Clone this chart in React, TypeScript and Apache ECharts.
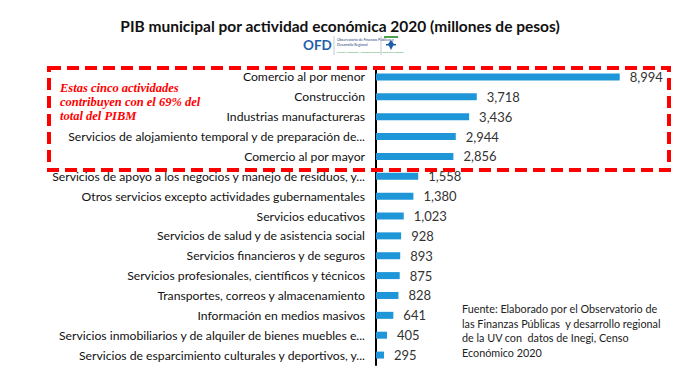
import React, { useEffect, useRef } from "react";
import * as echarts from "echarts";

const categories = [
  "Comercio al por menor",
  "Construcción",
  "Industrias manufactureras",
  "Servicios de alojamiento temporal y de preparación de...",
  "Comercio al por mayor",
  "Servicios de apoyo a los negocios y manejo de residuos, y...",
  "Otros servicios excepto actividades gubernamentales",
  "Servicios educativos",
  "Servicios de salud y de asistencia social",
  "Servicios financieros y de seguros",
  "Servicios profesionales, científicos y técnicos",
  "Transportes, correos y almacenamiento",
  "Información en medios masivos",
  "Servicios inmobiliarios y de alquiler de bienes muebles e...",
  "Servicios de esparcimiento culturales y deportivos, y...",
];
const values = [8994, 3718, 3436, 2944, 2856, 1558, 1380, 1023, 928, 893, 875, 828, 641, 405, 295];

const titleText = "PIB municipal por actividad económica 2020 (millones de pesos)";
const noteLines = ["Estas cinco actividades", "contribuyen con el 69% del", "total del PIBM"];
const sourceLines = [
  "Fuente: Elaborado por el Observatorio de",
  "las Finanzas Públicas  y desarrollo regional",
  "de la UV con  datos de Inegi, Censo",
  "Económico 2020",
];

export default function App() {
  const ref = useRef<HTMLDivElement>(null);
  useEffect(() => {
    if (!ref.current) return;
    const chart = echarts.init(ref.current, null, { renderer: "svg" });
    const font = "Lato, 'Open Sans', sans-serif";
    chart.setOption({
      animation: false,
      backgroundColor: "#ffffff",
      title: {
        text: titleText,
        left: "center",
        top: 13,
        textStyle: { fontFamily: font, fontSize: 15.5, fontWeight: "bold", color: "#111" },
      },
      grid: { left: 376, right: 33, top: 67, bottom: 14, containLabel: false },
      xAxis: {
        type: "value",
        min: 0,
        max: 10000,
        show: false,
        splitLine: { show: false },
      },
      yAxis: {
        type: "category",
        data: categories,
        inverse: true,
        axisLine: { show: true, lineStyle: { color: "#000", width: 2 } },
        axisTick: { show: false },
        axisLabel: { fontFamily: font, fontSize: 12.2, color: "#111", margin: 11 },
      },
      series: [
        {
          type: "bar",
          data: values,
          barWidth: 7,
          itemStyle: { color: "#1e96d8" },
          label: {
            show: true,
            position: "right",
            distance: 10,
            fontFamily: font,
            fontSize: 13,
            color: "#333",
            formatter: (p: any) => Number(p.value).toLocaleString("en-US"),
          },
        },
      ],
      graphic: [
        {
          type: "rect",
          shape: { x: 49, y: 68, width: 620, height: 102 },
          style: { fill: "none", stroke: "#ff0000", lineWidth: 4, lineDash: [12, 6] },
          z: 100,
          silent: true,
        },
        {
          type: "text",
          x: 60,
          y: 81,
          style: {
            text: noteLines.join("\n"),
            fontFamily: "'Liberation Serif', 'DejaVu Serif', serif",
            fontSize: 12.5,
            fontStyle: "italic",
            fontWeight: "bold",
            fill: "#ff0000",
            lineHeight: 14,
          },
        },
        {
          type: "text",
          x: 462,
          y: 301,
          style: {
            text: sourceLines.join("\n"),
            fontFamily: font,
            fontSize: 10.8,
            fill: "#222",
            lineHeight: 14.7,
          },
        },
        {
          type: "text",
          x: 303,
          y: 38,
          style: { text: "OFD", fontFamily: font, fontSize: 13.5, fontWeight: "bold", fill: "#1d5fa8" },
        },
        {
          type: "line",
          shape: { x1: 334, y1: 36, x2: 334, y2: 55 },
          style: { stroke: "#9ab", lineWidth: 0.6 },
        },
        {
          type: "text",
          x: 337,
          y: 37,
          style: {
            text: "Observatorio de Finanzas Públicas y\nDesarrollo Regional",
            fontFamily: font,
            fontSize: 3.6,
            fill: "#1d3f7a",
            align: "left",
            lineHeight: 5,
          },
        },
        {
          type: "text",
          x: 337,
          y: 50,
          style: { text: "Cuerpo Académico · Finanzas públicas y desarrollo regional", fontFamily: font, fontSize: 2.6, fill: "#2e9a3c" },
        },
        {
          type: "line",
          shape: { x1: 381, y1: 36, x2: 381, y2: 55 },
          style: { stroke: "#9ab", lineWidth: 0.6 },
        },
        {
          type: "rect",
          shape: { x: 384, y: 36, width: 14, height: 2 },
          style: { fill: "#4aa34a" },
        },
        {
          type: "polygon",
          shape: { points: [[391, 40], [394, 44], [391, 50], [388, 44]] },
          style: { fill: "#1d5fa8" },
        },
        {
          type: "rect",
          shape: { x: 386, y: 44, width: 10, height: 1.5 },
          style: { fill: "#1d5fa8" },
        },
      ],
    });
    return () => chart.dispose();
  }, []);
  return (
    <div style={{ position: "relative", width: 680, height: 379, margin: -8 }}>
      <div ref={ref} style={{ width: 680, height: 379 }} />
      <div
        style={{
          position: "absolute",
          left: 3,
          top: 3,
          width: 674,
          height: 370,
          boxSizing: "border-box",
          border: "2px solid #c4c4c4",
          pointerEvents: "none",
        }}
      />
    </div>
  );
}
